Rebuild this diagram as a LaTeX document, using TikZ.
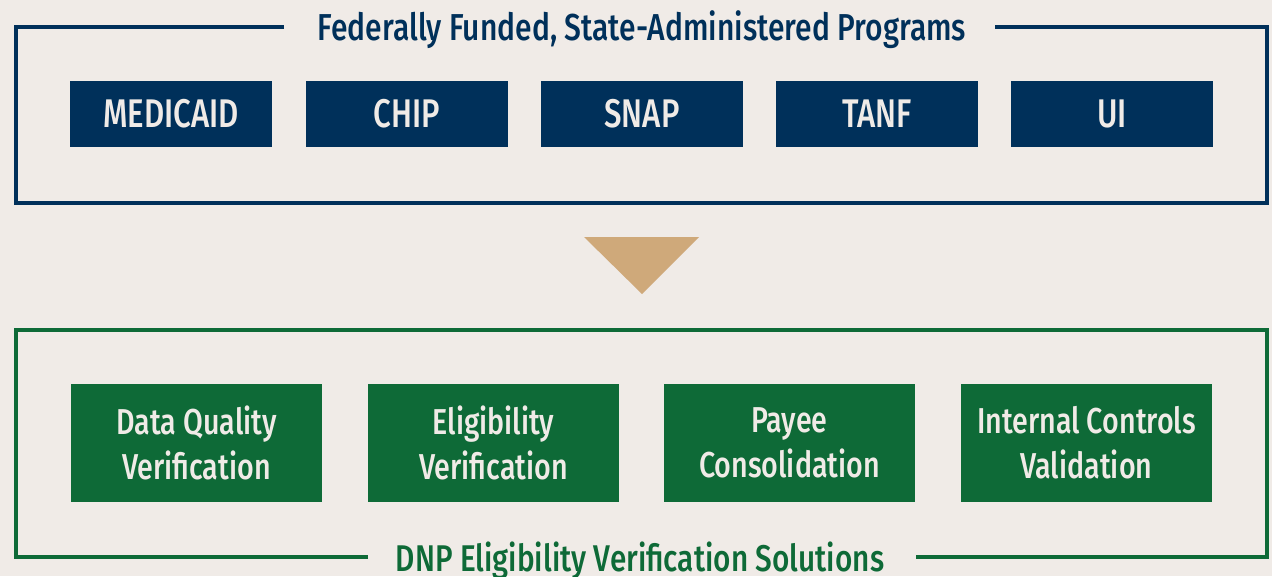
\documentclass[tikz,border=0pt]{standalone}
\usepackage{fontspec}
\setmainfont{Fira Sans}[FakeStretch=0.8]
\newfontfamily\titlefont{Fira Sans Medium}[FakeStretch=0.8]
\newfontfamily\boxfont{Fira Sans Medium}[FakeStretch=0.78]
\newfontfamily\solfont{Fira Sans Medium}[FakeStretch=0.795]
\definecolor{bgc}{HTML}{F0EBE7}
\definecolor{navy}{HTML}{00305A}
\definecolor{dgreen}{HTML}{0E6A37}
\definecolor{tan}{HTML}{CFA97A}
\tikzset{
  frame/.style={line width=4pt, line join=miter},
  progbox/.style={fill=navy, text=bgc, minimum width=202pt, minimum height=66pt, inner sep=0pt, font=\boxfont\fontsize{40}{40}\selectfont},
  solbox/.style={fill=dgreen, text=bgc, minimum width=251pt, minimum height=118pt, inner sep=0pt, align=center, font=\solfont\fontsize{36}{45}\selectfont},
  ftitle/.style={anchor=base, inner sep=0pt, font=\titlefont\fontsize{37.5}{37.5}\selectfont}
}
\begin{document}
\begin{tikzpicture}[x=1pt,y=-1pt]
\useasboundingbox[fill=bgc] (0,0) rectangle (1272,576);
% top frame
\coordinate (tA) at (284,27);
\coordinate (tB) at (995,27);
\draw[frame, navy] (tA) -- (16,27) -- (16,203) -- (1267,203) -- (1267,27) -- (tB);
\node[ftitle, text=navy] (ttl) at (642,40) {Federally Funded, State-Administered Programs};
% programs
\node[progbox] (medicaid) at (171,114) {MEDICAID};
\node[progbox] (chip) at (407,114) {CHIP};
\node[progbox] (snap) at (642,114) {SNAP};
\node[progbox] (tanf) at (877,114) {TANF};
\node[progbox] (ui) at (1112,114) {UI};
% arrow
\fill[tan] (584,237) -- (699,237) -- (642,294) -- cycle;
% bottom frame
\coordinate (bA) at (368,557);
\coordinate (bB) at (916,557);
\draw[frame, dgreen] (bA) -- (16,557) -- (16,330) -- (1267,330) -- (1267,557) -- (bB);
\node[ftitle, text=dgreen, font=\titlefont\fontsize{37.2}{37.2}\selectfont] (btl) at (640,571) {DNP Eligibility Verification Solutions};
% solutions
\node[solbox] (dq) at (196.5,443) {Data Quality\\Verification};
\node[solbox] (ev) at (493.5,443) {Eligibility\\Verification};
\node[solbox] (pc) at (789.5,443) {Payee\\Consolidation};
\node[solbox] (ic) at (1086.5,443) {Internal Controls\\Validation};
\end{tikzpicture}
\end{document}
